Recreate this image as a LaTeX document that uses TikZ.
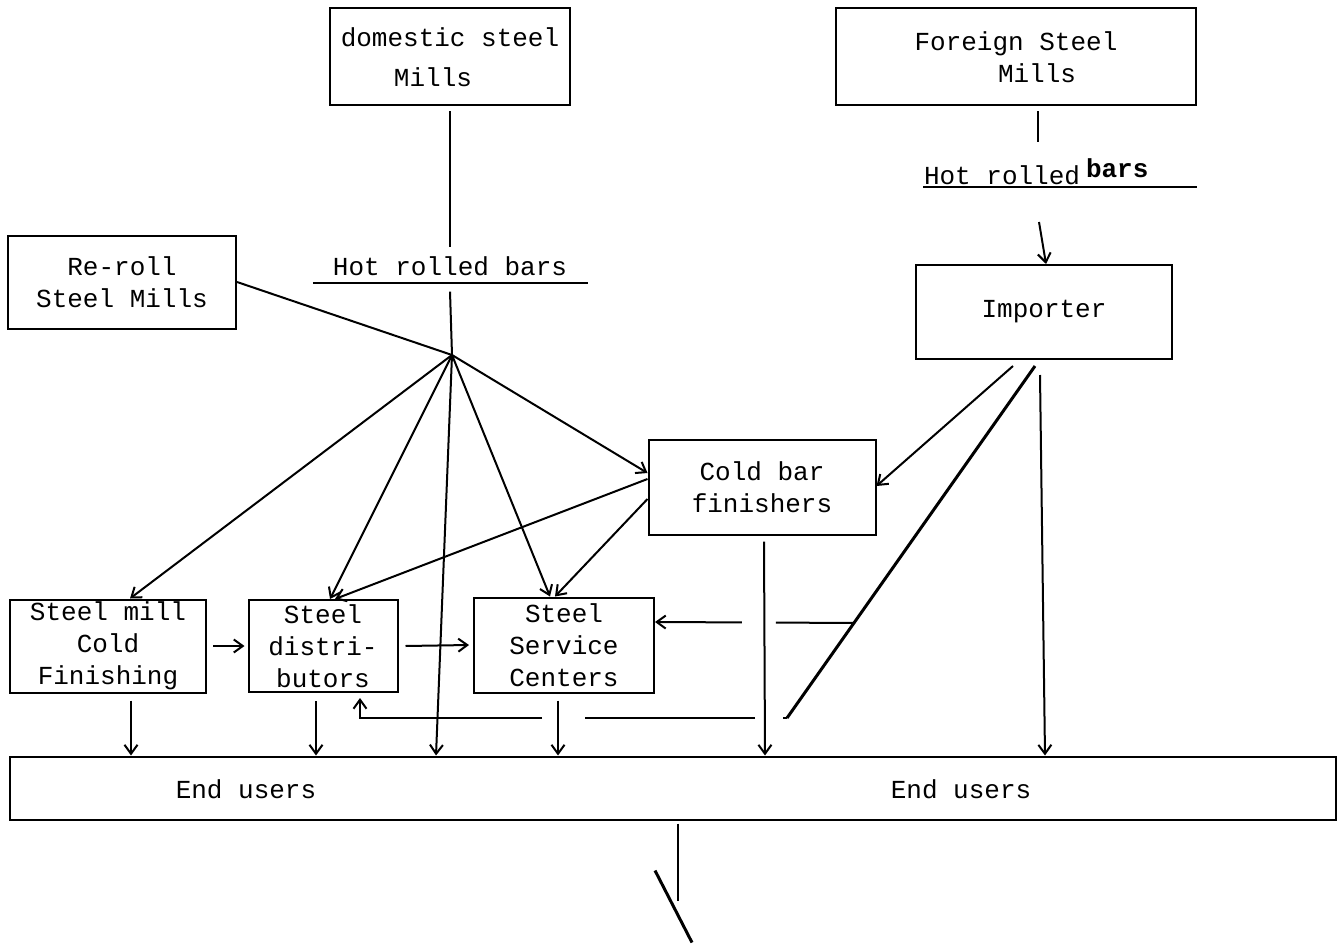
\documentclass[tikz,border=0pt]{standalone}
\usepackage{fontspec}
\setmonofont{Liberation Mono}
\usetikzlibrary{arrows.meta, calc}

\begin{document}
\begin{tikzpicture}[x=1pt, y=-1pt, line width=2pt,
    box/.style={draw, inner sep=0pt, align=center, font=\ttfamily\fontsize{26}{32}\selectfont},
    lbl/.style={inner sep=0pt, font=\ttfamily\fontsize{26}{32}\selectfont},
    arr/.style={-{Straight Barb[length=9pt, width=13pt]}}]
    \useasboundingbox (0,0) rectangle (1338,947);

    % Mills at the top
    \node[box, minimum width=240pt, minimum height=97pt] (dom) at (450,57) {domestic steel\\[8pt]\hspace*{-34pt}Mills};
    \node[box, minimum width=360pt, minimum height=97pt] (foreign) at (1016,57) {Foreign Steel\\\hspace*{42pt}Mills};
    \node[box, minimum width=228pt, minimum height=93pt] (reroll) at (122,282) {Re-roll\\Steel Mills};
    \node[box, minimum width=256pt, minimum height=94pt] (importer) at (1044,312) {Importer};
    \node[box, minimum width=227pt, minimum height=95pt] (coldbar) at (762,487) {Cold bar\\finishers};

    % Second stage
    \node[box, minimum width=196pt, minimum height=93pt] (millcold) at (108,646) {Steel mill\\Cold\\Finishing};
    \node[box, minimum width=149pt, minimum height=92pt] (distrib) at (323,646) {Steel\\distri-\\butors};
    \node[box, minimum width=180pt, minimum height=95pt] (service) at (564,645) {Steel\\Service\\Centers};

    % End users
    \node[box, minimum width=1326pt, minimum height=63pt] (endusers) at (673,788) {};
    \node[lbl] (eu1) at (246,789) {End users};
    \node[lbl] (eu2) at (961,789) {End users};

    % Hot rolled bars labels
    \node[lbl] (hrb) at (450,266) {Hot rolled bars};
    \node[lbl, anchor=base west] (fhrb) at (923,184) {Hot rolled\hspace{6pt}\raisebox{7pt}{\bfseries bars}};
    \coordinate (hub) at (452,355);
    \coordinate (fstub) at (1038,142);
    \coordinate (fdrop) at (1039,222);

    % domestic route
    \draw ([yshift=-5pt]dom.south) -- ([yshift=8pt]hrb.north);
    \draw ([xshift=-19pt,yshift=-6pt]hrb.south west) -- ([xshift=20pt,yshift=-6pt]hrb.south east);
    \draw ([yshift=-15pt]hrb.south) -- (hub);
    \draw (reroll.east) -- (hub);

    % fan out of the hub
    \draw[arr] (hub) -- ([xshift=22pt]millcold.north);
    \draw[arr] (hub) -- ([xshift=7pt]distrib.north);
    \draw[arr] (hub) -- ([xshift=-237pt]endusers.north);
    \draw[arr] (hub) -- ([xshift=-14pt]service.north);
    \draw[arr] (hub) -- ([yshift=14pt]coldbar.west);

    % foreign route
    \draw ([xshift=22pt,yshift=-5pt]foreign.south) -- (fstub);
    \draw ([yshift=-3pt]fhrb.base west) -- ([yshift=-3pt]fhrb.base west -| foreign.east);
    \draw[arr] (fdrop) -- ([xshift=2pt]importer.north);

    % out of cold bar finishers and importer
    \draw[arr] ([yshift=8pt]coldbar.west) -- ([xshift=12pt]distrib.north);
    \draw[arr] ([yshift=-12pt]coldbar.west) -- ([xshift=-9pt]service.north);
    \draw[arr] ([xshift=-31pt,yshift=-6pt]importer.south) -- ([yshift=1pt]coldbar.east);
    \coordinate (ia) at ([xshift=-9pt,yshift=-6pt]importer.south);
    \coordinate (lp) at (787,718);
    \coordinate (rp) at ($(ia)!0.73!(lp)$);
    \draw[line width=3pt] (ia) -- (lp);
    \draw[arr, dash pattern=on 78pt off 34pt on 300pt] (rp) -- ([yshift=23pt]service.east);
    \draw[arr, dash pattern=on 4pt off 28pt on 170pt off 43pt on 400pt] (lp) -| ([xshift=37pt,yshift=-5pt]distrib.south);

    % sideways between the stockists
    \draw[arr] ([xshift=6pt]millcold.east) -- ([xshift=-3pt]distrib.west);
    \draw[arr] ([xshift=7pt]distrib.east) -- ([xshift=-4pt]service.west);

    % down to the end users
    \draw[arr] ([xshift=23pt,yshift=-7pt]millcold.south) -- ([xshift=-542pt]endusers.north);
    \draw[arr] ([xshift=-7pt,yshift=-8pt]distrib.south) -- ([xshift=-357pt]endusers.north);
    \draw[arr] ([xshift=-6pt,yshift=-7pt]service.south) -- ([xshift=-115pt]endusers.north);
    \draw[arr] ([xshift=2pt,yshift=-6pt]coldbar.south) -- ([xshift=92pt]endusers.north);
    \draw[arr] ([xshift=-4pt,yshift=-15pt]importer.south) -- ([xshift=372pt]endusers.north);

    % out of the end users
    \draw ([xshift=5pt,yshift=-3pt]endusers.south) -- ++(0,77);
    \draw[line width=3pt] ([xshift=-18pt,yshift=-50pt]endusers.south) -- ++(37,72);

\end{tikzpicture}
\end{document}
